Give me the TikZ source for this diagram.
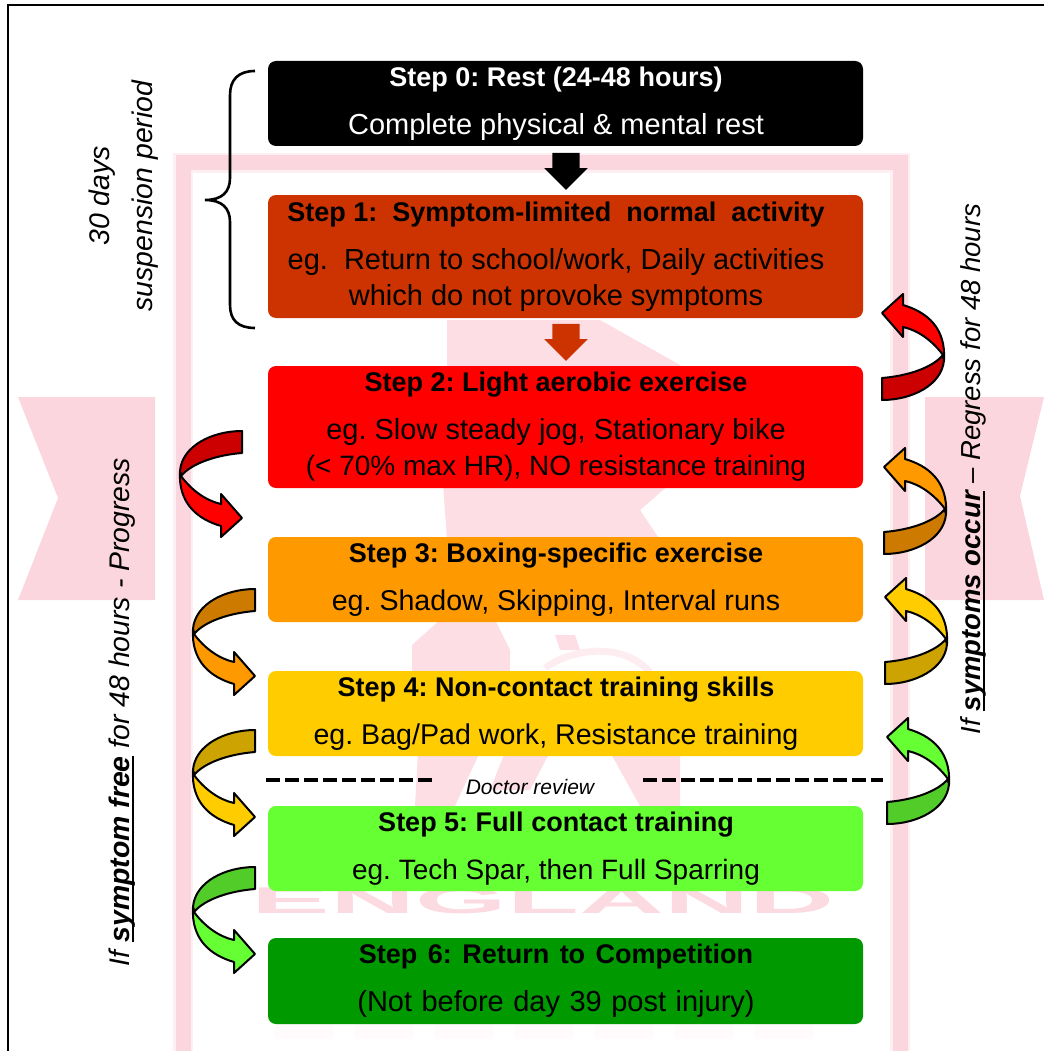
\documentclass[tikz,border=0pt]{standalone}
\usepackage{fontspec}
\setmainfont{Liberation Sans}
\usepackage{xcolor}
\usetikzlibrary{shapes.arrows}
\definecolor{stepzero}{HTML}{000000}
\definecolor{stepone}{HTML}{CC3300}
\definecolor{steptwo}{HTML}{FF0000}
\definecolor{stepthree}{HTML}{FF9900}
\definecolor{stepfour}{HTML}{FFCC00}
\definecolor{stepfive}{HTML}{66FF33}
\definecolor{stepsix}{HTML}{009900}
\definecolor{wmark}{HTML}{FCD6DE}
\tikzset{
    stepbox/.style={rounded corners=8pt, inner sep=0pt, text width=595pt, align=center,
        font=\fontsize{29}{36}\selectfont\frenchspacing,
        execute at begin node={\leftskip=0pt plus 1fil\rightskip=19pt plus 1fil\parfillskip=0pt\spaceskip=0pt\relax}},
    blockarrow/.style={single arrow, rotate=-90, inner xsep=0pt, inner ysep=13.5pt, minimum height=37pt, minimum width=43pt,
        single arrow head extend=8pt, single arrow head indent=0pt},
    sidetext/.style={rotate=90, align=center, font=\fontsize{28.4}{43}\selectfont\itshape\frenchspacing},
    foldline/.style={draw=black, line width=2pt, line join=round},
    lionpart/.style={fill=wmark!80}
}
\newcommand{\steptitle}[1]{{\fontsize{27}{36}\selectfont\bfseries #1}}
\newcommand{\heavyline}[1]{\setbox0=\hbox{#1}\rlap{\copy0}\rlap{\rule[-5pt]{\wd0}{2.5pt}}\hskip\wd0\relax}
% folded block arrow: position, rotation, light and dark colour
\newcommand{\foldarrow}[4]{
    \begin{scope}[shift={#1}, rotate=#2]
        \fill[#4, foldline] (0,0) .. controls (30,0) and (60,-15) .. (62,-40)
            -- (61,-45) .. controls (50,-32) and (25,-24) .. (0,-22) -- cycle;
        \fill[#3, foldline] (62,-40) .. controls (64,-72) and (45,-88) .. (21,-95)
            -- (21,-106) -- (0,-87) -- (21,-63) -- (21,-73)
            .. controls (35,-70) and (50,-60) .. (61,-45) -- cycle;
    \end{scope}
}
\begin{document}
\begin{tikzpicture}[x=1pt, y=-1pt]
    \useasboundingbox (0,0) rectangle (1044,1051);

    % Watermark
    \draw[wmark!40, line width=20pt] (183,1060) -- (183,163) -- (900,163) -- (900,1060);
    \draw[wmark, line width=15pt] (183,1060) -- (183,163) -- (900,163) -- (900,1060);
    \fill[wmark] (18,397) -- (155,397) -- (155,600) -- (18,600) -- (58,498) -- cycle;
    \fill[wmark] (925,397) -- (1044,397) -- (1020,496) -- (1044,600) -- (925,600) -- cycle;
    \fill[lionpart] (447,320) -- (600,320) -- (680,365) -- (680,370) -- (447,370) -- cycle;
    \fill[lionpart] (443,484) -- (670,484) -- (640,510) -- (660,540) -- (447,540) -- cycle;
    \fill[lionpart] (440,620) -- (495,620) -- (510,650) -- (510,675) -- (412,675) -- (412,645) -- cycle;
    \fill[lionpart] (555,635) -- (575,635) -- (580,650) -- (560,650) -- cycle;
    \draw[wmark!45, line width=7pt] (545,668) .. controls (570,650) and (620,640) .. (650,672);
    \fill[lionpart] (418,752) -- (480,752) -- (455,806) -- (415,806) -- cycle;
    \fill[lionpart] (505,752) -- (550,752) -- (530,790) -- (490,790) -- cycle;
    \fill[lionpart] (610,752) -- (680,752) -- (680,806) -- (640,806) -- cycle;
    \node[text=wmark!90, inner sep=0pt, font=\bfseries] (wordone) at (543,901) {\resizebox{582pt}{26pt}{ENGLAND}};
    \foreach \xpos in {275,355,435,515,595,675,755}
        \fill[wmark!12] (\xpos,1024) rectangle ++(58,15);

    % Frame
    \draw[line width=1.5pt] (8,1051) -- (8,5) -- (1044,5);

    % Steps
    \node[stepbox, fill=stepzero, text=white, minimum height=85pt] (step0) at (565.5,103.5)
        {\steptitle{Step 0: Rest (24-48 hours)}\\[12pt] Complete physical \& mental rest};
    \node[stepbox, fill=stepone, minimum height=123pt] (step1) at (565.5,256.5)
        {\steptitle{Step 1:\ \ Symptom-limited\ \ normal\ \ activity}\\[12pt] eg.\ \ Return to school/work, Daily activities\\ which do not provoke symptoms};
    \node[stepbox, fill=steptwo, minimum height=122pt] (step2) at (565.5,427)
        {\steptitle{Step 2: Light aerobic exercise}\\[12pt] eg. Slow steady jog, Stationary bike\\ {\fontsize{28}{36}\selectfont (< 70\% max HR), NO resistance training}};
    \node[stepbox, fill=stepthree, minimum height=85pt] (step3) at (565.5,579.5)
        {\steptitle{Step 3: Boxing-specific exercise}\\[12pt] {\fontsize{28.6}{36}\selectfont eg. Shadow, Skipping, Interval runs}};
    \node[stepbox, fill=stepfour, minimum height=85pt] (step4) at (565.5,713.5)
        {\steptitle{Step 4: Non-contact training skills}\\[12pt] {\fontsize{28.6}{36}\selectfont eg. Bag/Pad work, Resistance training}};
    \node[stepbox, fill=stepfive, minimum height=85pt] (step5) at (565.5,848.5)
        {\steptitle{Step 5: Full contact training}\\[12pt] {\fontsize{28}{36}\selectfont eg. Tech Spar, then Full Sparring}};
    \node[stepbox, fill=stepsix, minimum height=86pt] (step6) at (565.5,981)
        {\steptitle{\spaceskip=10.5pt Step 6: Return to Competition}\\[12pt] {\spaceskip=9.5pt (Not before day 39 post injury)}};

    % Arrows between steps
    \node[blockarrow, fill=stepzero] (down0) at (566,164.5) {};
    \node[blockarrow, fill=stepone] (down1) at (566,335.5) {};

    % Regress arrows
    \foldarrow{(882,400)}{0}{steptwo}{steptwo!80!black}
    \foldarrow{(884,554)}{0}{stepthree}{stepthree!80!black}
    \foldarrow{(885,684)}{0}{stepfour}{stepfour!80!black}
    \foldarrow{(887,824)}{0}{stepfive}{stepfive!80!black}

    % Progress arrows
    \foldarrow{(242,431)}{180}{steptwo}{steptwo!80!black}
    \foldarrow{(255,589)}{180}{stepthree}{stepthree!80!black}
    \foldarrow{(255,730)}{180}{stepfour}{stepfour!80!black}
    \foldarrow{(255,867)}{180}{stepfive}{stepfive!80!black}

    % Doctor review
    \coordinate (rulea) at (266,780);
    \coordinate (ruleb) at (435,780);
    \coordinate (rulec) at (643,780);
    \coordinate (ruled) at (883,780);
    \draw[line width=4pt, dash pattern=on 14pt off 5pt] (rulea) -- (ruleb);
    \draw[line width=4pt, dash pattern=on 14pt off 5pt] (rulec) -- (ruled);
    \node[font=\fontsize{21}{21}\selectfont\itshape, inner sep=0pt] (review) at (530,787) {Doctor review};

    % Brace
    \draw[line width=2.6pt] (255,71) .. controls (238,71) and (230,80) .. (230,95) -- (230,178)
        .. controls (230,192) and (222,200) .. (205,200) .. controls (222,200) and (230,208) .. (230,222)
        -- (230,305) .. controls (230,320) and (238,328) .. (255,328);

    % Text
    \node[sidetext] (susp) at (124,196) {30 days\\ suspension period};
    \node[sidetext] (prog) at (122,712) {If \heavyline{\textbf{symptom free}} for 48 hours - Progress};
    \node[sidetext, font=\fontsize{27.5}{43}\selectfont\itshape] (regr) at (973,469) {If \heavyline{\textbf{symptoms occur}} -- Regress for 48 hours};
\end{tikzpicture}
\end{document}
